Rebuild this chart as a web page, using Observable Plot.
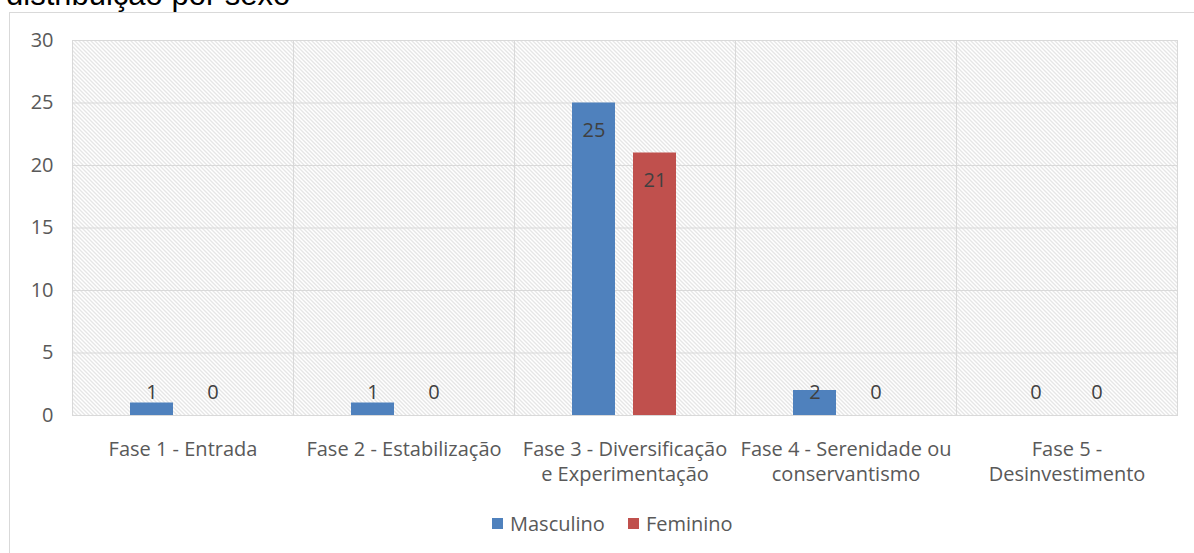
<!DOCTYPE html>
<html>
<head>
<meta charset="utf-8">
<script src="https://cdn.jsdelivr.net/npm/d3@7"></script>
<script src="https://cdn.jsdelivr.net/npm/@observablehq/plot@0.6"></script>
<style>
  body { margin: 0; background: #fff; }
  #wrap { position: relative; width: 1194px; height: 553px; overflow: hidden; background: #fff; }
  #frame { position: absolute; left: 9px; top: 12px; width: 1400px; height: 800px; border: 1.5px solid #d9d9d9; box-sizing: border-box; }
  #title { position: absolute; left: 6px; top: -23px; font-family: "Liberation Sans", Arial, sans-serif; font-size: 31px; color: #000; white-space: nowrap; }
  #chart { position: absolute; left: 0; top: 0; }
  #legend { position: absolute; left: 492px; top: 510px; display: flex; align-items: center; font-family: "Open Sans", sans-serif; font-size: 20px; color: #595959; }
  .sw { width: 11px; height: 11px; display: inline-block; margin-right: 7px; }
  .item { display: flex; align-items: center; margin-right: 23px; }
</style>
</head>
<body>
<svg width="0" height="0" style="position:absolute">
  <defs>
    <pattern id="hatch" patternUnits="userSpaceOnUse" width="4" height="4">
      <rect width="4" height="4" fill="#ffffff"></rect>
      <path d="M-1,-1 L5,5 M-1,3 L1,5 M3,-1 L5,1" stroke="#cdcdcd" stroke-width="1"></path>
    </pattern>
  </defs>
</svg>
<div id="wrap">
  <div id="frame"></div>
  <div id="title">distribuição por sexo</div>
  <div id="chart"></div>
  <div id="legend"></div>
</div>
<script>
const fases = ["Fase 1 - Entrada", "Fase 2 - Estabilização", "Fase 3 - Diversificação e Experimentação", "Fase 4 - Serenidade ou conservantismo", "Fase 5 - Desinvestimento"];
const faseLabels = ["Fase 1 - Entrada", "Fase 2 - Estabilização", "Fase 3 - Diversificação\ne Experimentação", "Fase 4 - Serenidade ou\nconservantismo", "Fase 5 -\nDesinvestimento"];
const sexos = ["Masculino", "Feminino"];
const masculino = [1, 1, 25, 2, 0];
const feminino = [0, 0, 21, 0, 0];
const yTicks = [0, 5, 10, 15, 20, 25, 30];
const colors = ["#4f81bd", "#c0504d"];

const data = [];
fases.forEach((f, i) => {
  data.push({fase: f, sexo: "Masculino", value: masculino[i]});
  data.push({fase: f, sexo: "Feminino", value: feminino[i]});
});
const labelMap = new Map(fases.map((f, i) => [f, faseLabels[i]]));

const chart = Plot.plot({
  width: 1194,
  height: 500,
  marginLeft: 70,
  marginRight: 15,
  marginTop: 40,
  marginBottom: 85,
  style: {fontFamily: "'Open Sans', sans-serif", fontSize: "20px", color: "#595959", background: "transparent", overflow: "visible"},
  fx: {domain: fases, padding: 0, axis: null},
  x: {domain: sexos, paddingInner: 0.29, paddingOuter: 0.935, axis: null},
  y: {domain: [0, 30], axis: null},
  color: {domain: sexos, range: colors},
  marks: [
    Plot.frame({fill: "url(#hatch)", stroke: null}),
    Plot.gridY(yTicks, {stroke: "#d9d9d9", strokeOpacity: 1, strokeWidth: 1}),
    Plot.frame({stroke: "#d9d9d9", strokeWidth: 1, fill: "none"}),
    Plot.barY(data, {fx: "fase", x: "sexo", y: "value", fill: "sexo"}),
    Plot.text(data, {fx: "fase", x: "sexo", y: d => Math.max(d.value - 2.2, 1.84), text: d => String(d.value), fill: "#404040", fontSize: 20}),
    Plot.axisY(yTicks, {tickSize: 0, tickPadding: 19, fontSize: 20, fill: "#595959", label: null}),
    Plot.axisFx({anchor: "bottom", tickSize: 0, tickPadding: 23, fontSize: 20, fill: "#595959", lineHeight: 1.25, label: null, tickFormat: d => labelMap.get(d)})
  ]
});
document.getElementById("chart").appendChild(chart);

const legend = document.getElementById("legend");
sexos.forEach((s, i) => {
  const item = document.createElement("div");
  item.className = "item";
  const sw = document.createElement("span");
  sw.className = "sw";
  sw.style.background = colors[i];
  const t = document.createElement("span");
  t.textContent = s;
  item.appendChild(sw);
  item.appendChild(t);
  legend.appendChild(item);
});
</script>
</body>
</html>
